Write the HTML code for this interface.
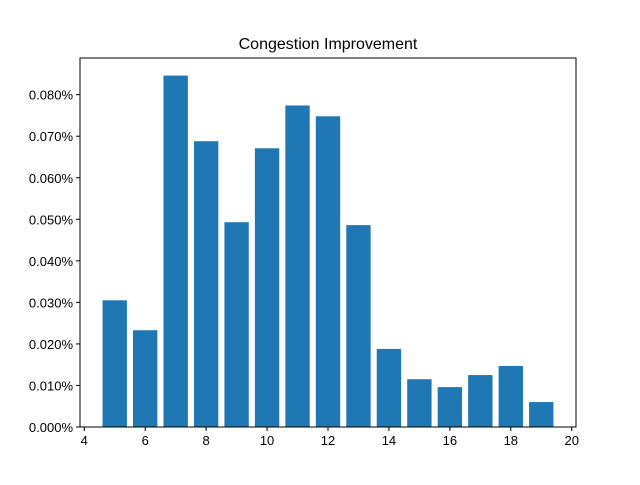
<!DOCTYPE html>
<html><head><meta charset="utf-8"><style>
body{margin:0;background:#fff;}
svg text{font-family:"Liberation Sans","DejaVu Sans",sans-serif;fill:#000;}
</style></head><body>
<svg width="640" height="480" xmlns="http://www.w3.org/2000/svg">
<rect width="640" height="480" fill="#fff"/>
<text x="328" y="49" font-size="16" text-anchor="middle">Congestion Improvement</text>
<g id="bars"></g>
<g id="xticks"></g>
<g id="yticks"></g>
<rect x="80" y="58" width="496" height="369" fill="none" stroke="#000" stroke-width="1"/>
<script>
const categories=[5,6,7,8,9,10,11,12,13,14,15,16,17,18,19];
const values=[0.0305,0.0233,0.0846,0.0688,0.0493,0.0671,0.0774,0.0748,0.0486,0.0188,0.0115,0.0096,0.0125,0.0147,0.0060];
const xTicks=[4,6,8,10,12,14,16,18,20];
const yTicks=[0,0.01,0.02,0.03,0.04,0.05,0.06,0.07,0.08];
const L=80,R=576,T=58,B=427;
const xmin=3.86,xmax=20.14,ymax=Math.max(...values)*1.05;
const sx=v=>L+(v-xmin)/(xmax-xmin)*(R-L);
const sy=v=>B-v/ymax*(B-T);
const ns="http://www.w3.org/2000/svg";
const bg=document.getElementById('bars');
categories.forEach((c,i)=>{
 const r=document.createElementNS(ns,'rect');
 const x0=sx(c-0.4),x1=sx(c+0.4);
 r.setAttribute('x',x0);r.setAttribute('width',x1-x0);
 r.setAttribute('y',sy(values[i]));r.setAttribute('height',B-sy(values[i]));
 r.setAttribute('fill','#1f77b4');
 
 
 bg.appendChild(r);
});
const xg=document.getElementById('xticks');
xTicks.forEach(t=>{
 const x=sx(t);
 const l=document.createElementNS(ns,'line');
 l.setAttribute('x1',x);l.setAttribute('x2',x);l.setAttribute('y1',B);l.setAttribute('y2',B+4);l.setAttribute('stroke','#000');
 
 
 xg.appendChild(l);
 const tx=document.createElementNS(ns,'text');
 tx.setAttribute('x',x);tx.setAttribute('y',B+18);tx.setAttribute('font-size','13');tx.setAttribute('text-anchor','middle');
 tx.textContent=t;
 
 
 xg.appendChild(tx);
});
const yg=document.getElementById('yticks');
yTicks.forEach(t=>{
 const y=sy(t);
 const l=document.createElementNS(ns,'line');
 l.setAttribute('x1',L-4);l.setAttribute('x2',L);l.setAttribute('y1',y);l.setAttribute('y2',y);l.setAttribute('stroke','#000');
 
 
 yg.appendChild(l);
 const tx=document.createElementNS(ns,'text');
 tx.setAttribute('x',L-7);tx.setAttribute('y',y+5);tx.setAttribute('font-size','13');tx.setAttribute('text-anchor','end');
 tx.textContent=t.toFixed(3)+'%';
 
 
 yg.appendChild(tx);
});
</script>
</svg>
</body></html>
